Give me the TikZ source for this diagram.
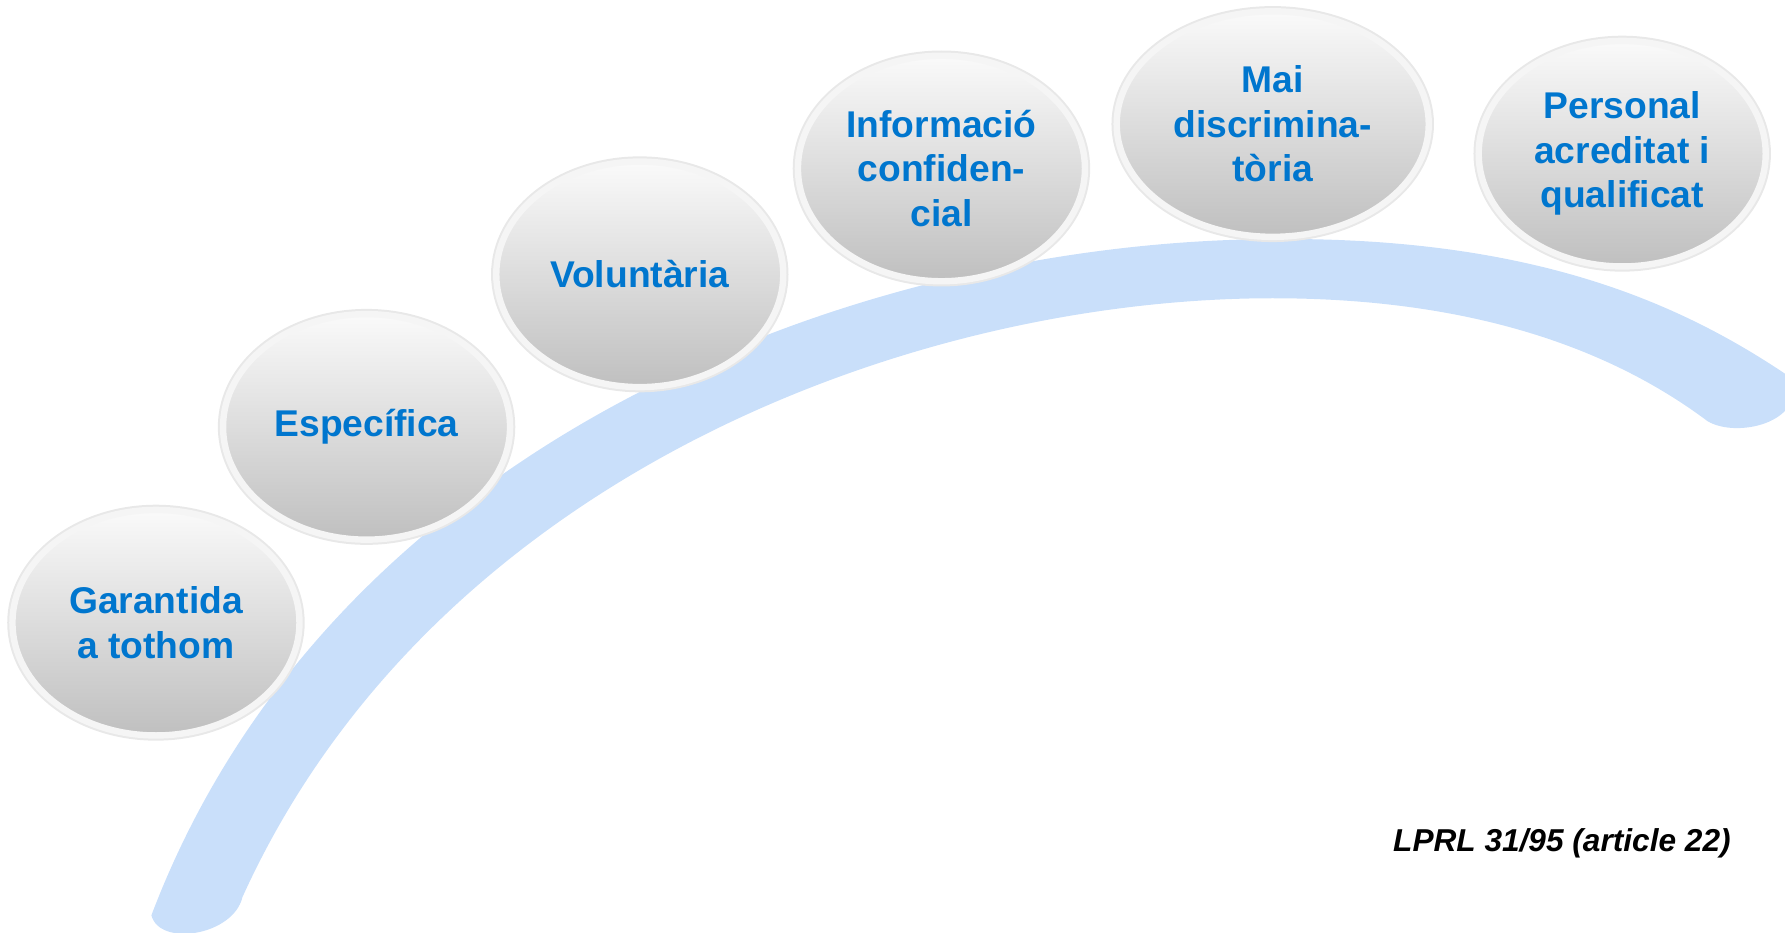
\documentclass[tikz,border=0pt]{standalone}
\usepackage{fontspec}
\setmainfont{Liberation Sans}
\usetikzlibrary{shapes.geometric}
\definecolor{txtblue}{RGB}{0,118,206}
\definecolor{bandblue}{RGB}{201,223,250}
\begin{document}
\begin{tikzpicture}[x=0.01cm,y=-0.01cm,
  bubble/.style={ellipse, minimum width=2.52cm, minimum height=1.98cm, inner sep=0pt,
    top color=black!2, middle color=black!8, bottom color=black!25,
    draw=black!4, line width=1.6pt,
    preaction={draw=black!9, line width=2.6pt},
    font=\fontsize{9.3}{11.1}\selectfont\bfseries, text=txtblue, align=center},
  note/.style={font=\fontsize{7.9}{9.5}\selectfont\bfseries\itshape, text=black, inner sep=0pt}]
\useasboundingbox (0,0) rectangle (1568,819);
% band
\fill[bandblue] (133,804) .. controls (290,390) and (750,212) .. (1118,210)
  .. controls (1350,208) and (1480,268) .. (1575,333)
  .. controls (1585,372) and (1525,385) .. (1500,370)
  .. controls (1420,310) and (1300,262) .. (1118,262)
  .. controls (800,262) and (380,420) .. (213,788)
  .. controls (205,822) and (140,832) .. (133,804) -- cycle;
% bubbles
\node[bubble] (g) at (137,547) {Garantida\\a tothom};
\node[bubble] (e) at (322,375) {Específica};
\node[bubble] (v) at (562,241) {Voluntària};
\node[bubble] (i) at (827,148) {Informació\\confiden-\\cial};
\node[bubble, minimum width=2.74cm] (m) at (1118,109) {Mai\\discrimina-\\tòria};
\node[bubble] (p) at (1425,135) {Personal\\acreditat i\\qualificat};
\node[note, anchor=base east] (l) at (1521,748) {LPRL 31/95 (article 22)};
\end{tikzpicture}
\end{document}
